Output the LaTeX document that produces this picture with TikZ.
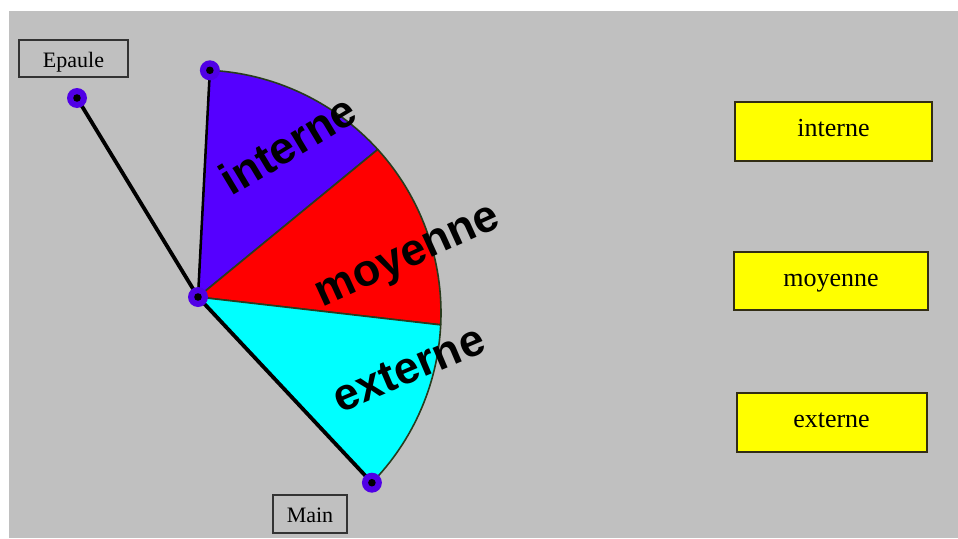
\documentclass[tikz,border=0pt]{standalone}
\usepackage{fontspec}
\setmainfont{Liberation Serif}
\setsansfont{Liberation Sans}
\definecolor{bggray}{RGB}{192,192,192}
\definecolor{cint}{RGB}{85,0,255}
\definecolor{cmoy}{RGB}{255,0,0}
\definecolor{cext}{RGB}{0,255,255}
\definecolor{ptcol}{RGB}{80,0,230}
\definecolor{secedge}{RGB}{40,60,30}
\definecolor{boxedge}{RGB}{50,45,20}
\definecolor{boxyel}{RGB}{255,255,0}
\begin{document}
\begin{tikzpicture}[x=1pt,y=1pt,
  lbl/.style={draw=black!80, line width=1.6pt, font=\fontsize{22}{22}\selectfont, inner sep=0pt, text height=21pt, text depth=4pt},
  choice/.style={draw=boxedge, line width=2pt, fill=boxyel, font=\fontsize{26}{26}\selectfont, inner sep=0pt, text height=16pt, text depth=6pt},
  jointpt/.style={circle, fill=ptcol, minimum size=20pt, inner sep=0pt,
    path picture={\fill[black] (path picture bounding box.center) circle (3.8pt);}},
  sector/.style={draw=secedge, line width=1.6pt, line join=round},
  limb/.style={draw=black, line width=3.8pt, line cap=round},
  seclabel/.style={font=\fontsize{45}{45}\selectfont\sffamily\bfseries, text height=23.4pt, text depth=0pt, inner sep=0pt}
]
\useasboundingbox (0,0) rectangle (958,-538);
\fill[white] (0,0) rectangle (958,-538);
\fill[bggray] (9,-11) rectangle (958,-538);

% geometry
\coordinate (C) at (198,-313);
\coordinate (E) at (198,-297);
\coordinate (S) at (77,-98);
\coordinate (P1) at ([shift={(87.2:243pt)}]C);
\coordinate (P2) at ([shift={(42.3:243pt)}]C);
\coordinate (P3) at ([shift={(-2.8:243pt)}]C);
\coordinate (P4) at ([shift={(-44.3:243pt)}]C);

% sectors
\filldraw[sector, fill=cint] (E) -- (P1) arc[start angle=87.2, end angle=42.3, radius=243pt] -- cycle;
\filldraw[sector, fill=cmoy] (E) -- (P2) arc[start angle=42.3, end angle=-2.8, radius=243pt] -- cycle;
\filldraw[sector, fill=cext] (E) -- (P3) arc[start angle=-2.8, end angle=-44.3, radius=243pt] -- cycle;

% limbs
\draw[limb] (S) -- (E);
\draw[limb] (E) -- (P4);
\draw[black, line width=2.5pt] (E) -- (P1);

% sector labels
\node[seclabel, rotate=31] (tint) at (290,-148) {interne};
\node[seclabel, rotate=24.4] (tmoy) at (408,-256) {moyenne};
\node[seclabel, rotate=23] (text) at (410,-371) {externe};

% joints
\node[jointpt] (shoulder) at (S) {};
\node[jointpt] (elbow) at (E) {};
\node[jointpt] (top) at (P1) {};
\node[jointpt] (hand) at (P4) {};

% labels
\node[lbl, minimum width=109pt, minimum height=37pt] (epaule) at (73.5,-58.5) {Epaule};
\node[lbl, minimum width=74pt, minimum height=38pt] (main) at (310,-514) {Main};

% choices
\node[choice, minimum width=197pt, minimum height=59pt] (binterne) at (833.5,-131) {interne};
\node[choice, minimum width=194pt, minimum height=58pt] (bmoyenne) at (831,-281) {moyenne};
\node[choice, minimum width=190pt, minimum height=59pt] (bexterne) at (831.5,-422.5) {externe};
\end{tikzpicture}
\end{document}
